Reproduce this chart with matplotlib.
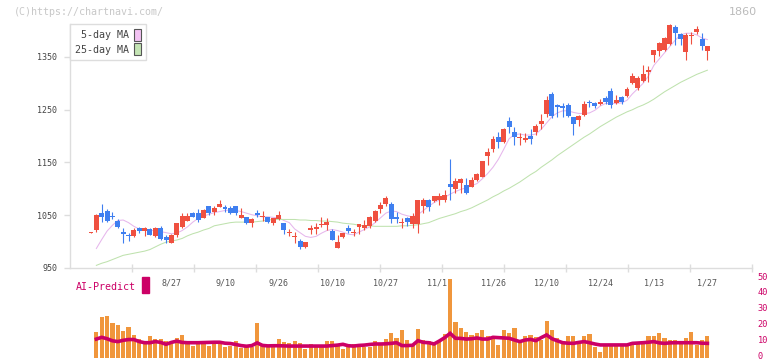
import numpy as np
import matplotlib
matplotlib.use("Agg")
import matplotlib.pyplot as plt
from matplotlib.patches import Patch, Rectangle
from matplotlib.transforms import ScaledTranslation

# daily candles (oldest first)
opens = [1017, 1022, 1055, 1059, 1049, 1039, 1018, 1013, 1011, 1026,
         1020, 1024, 1011, 1025, 1009, 998, 1013, 1028, 1040, 1055,
         1054, 1044, 1068, 1056, 1066, 1065, 1063, 1067, 1045, 1046,
         1036, 1055, 1046, 1046, 1035, 1042, 1035, 1017, 1008, 1002,
         989, 1022, 1024, 1031, 1031, 1021, 987, 1008, 1025, 1016,
         1027, 1025, 1030, 1040, 1061, 1071, 1071, 1046, 1036, 1044,
         1033, 1033, 1068, 1078, 1077, 1079, 1079, 1109, 1099, 1112,
         1107, 1104, 1116, 1123, 1162, 1176, 1198, 1188, 1228, 1207,
         1196, 1192, 1200, 1208, 1223, 1242, 1280, 1259, 1257, 1259,
         1236, 1231, 1240, 1265, 1262, 1261, 1272, 1285, 1262, 1275,
         1276, 1300, 1291, 1305, 1322, 1354, 1362, 1363, 1375, 1407,
         1394, 1360, 1389, 1397, 1384, 1362]
highs = [1019, 1053, 1071, 1061, 1057, 1042, 1025, 1017, 1026, 1028,
         1027, 1025, 1028, 1029, 1013, 1015, 1036, 1055, 1055, 1057,
         1061, 1062, 1068, 1067, 1079, 1069, 1067, 1068, 1063, 1047,
         1044, 1060, 1058, 1047, 1045, 1058, 1036, 1023, 1019, 1005,
         1000, 1031, 1035, 1046, 1044, 1023, 1013, 1017, 1031, 1023,
         1034, 1041, 1049, 1060, 1076, 1087, 1076, 1057, 1044, 1047,
         1054, 1079, 1082, 1080, 1087, 1093, 1098, 1156, 1120, 1121,
         1121, 1123, 1131, 1153, 1177, 1200, 1208, 1215, 1237, 1218,
         1205, 1205, 1213, 1223, 1242, 1276, 1284, 1260, 1262, 1262,
         1237, 1240, 1267, 1268, 1265, 1270, 1276, 1291, 1278, 1277,
         1294, 1320, 1314, 1335, 1333, 1364, 1378, 1388, 1413, 1411,
         1395, 1395, 1398, 1409, 1395, 1371]
lows = [1017, 1019, 1038, 1038, 1042, 1025, 998, 1001, 1008, 1017,
        1011, 1012, 1009, 1004, 998, 997, 1009, 1025, 1039, 1046,
        1038, 1044, 1051, 1050, 1065, 1056, 1053, 1050, 1044, 1033,
        1027, 1047, 1040, 1035, 1031, 1041, 1015, 1011, 998, 986,
        988, 1014, 1014, 1027, 1022, 1003, 987, 1007, 1017, 1011,
        1014, 1022, 1026, 1038, 1054, 1067, 1036, 1036, 1025, 1030,
        1025, 1016, 1055, 1059, 1076, 1069, 1076, 1078, 1092, 1092,
        1090, 1103, 1115, 1122, 1145, 1169, 1177, 1187, 1206, 1183,
        1183, 1188, 1186, 1203, 1213, 1237, 1234, 1237, 1237, 1236,
        1202, 1219, 1238, 1256, 1254, 1259, 1261, 1253, 1261, 1261,
        1274, 1299, 1287, 1303, 1303, 1341, 1351, 1362, 1373, 1373,
        1373, 1344, 1375, 1393, 1363, 1344]
closes = [1018, 1050, 1047, 1040, 1047, 1028, 1015, 1011, 1022, 1021,
          1026, 1013, 1026, 1005, 1003, 1013, 1035, 1049, 1049, 1047,
          1041, 1060, 1054, 1064, 1071, 1061, 1055, 1055, 1050, 1035,
          1042, 1051, 1049, 1038, 1044, 1050, 1022, 1019, 1011, 989,
          999, 1025, 1028, 1033, 1038, 1004, 1000, 1016, 1021, 1019,
          1033, 1031, 1047, 1059, 1069, 1082, 1042, 1043, 1038, 1038,
          1049, 1078, 1079, 1066, 1086, 1087, 1088, 1104, 1114, 1119,
          1093, 1117, 1128, 1152, 1169, 1194, 1188, 1213, 1218, 1199,
          1199, 1196, 1195, 1219, 1229, 1268, 1238, 1256, 1254, 1238,
          1223, 1238, 1261, 1262, 1257, 1265, 1265, 1259, 1268, 1264,
          1289, 1314, 1310, 1318, 1325, 1363, 1376, 1386, 1411, 1395,
          1384, 1392, 1391, 1404, 1370, 1371]

nan = np.nan
ma5 = [nan, 987, 1004, 1020, 1031, 1040, 1041, 1036, 1029, 1024,
       1022, 1021, 1021, 1019, 1017, 1015, 1016, 1021, 1028, 1037,
       1044, 1048, 1052, 1055, 1057, 1059, 1060, 1059, 1057, 1054,
       1051, 1049, 1047, 1047, 1046, 1045, 1040, 1036, 1024, 1017,
       1010, 1008, 1010, 1016, 1021, 1023, 1021, 1018, 1014, 1013,
       1018, 1023, 1028, 1036, 1045, 1054, 1058, 1057, 1052, 1049,
       1047, 1051, 1059, 1067, 1074, 1079, 1084, 1090, 1095, 1099,
       1102, 1106, 1110, 1119, 1129, 1141, 1156, 1175, 1195, 1203,
       1204, 1202, 1202, 1204, 1213, 1225, 1237, 1244, 1248, 1248,
       1245, 1243, 1243, 1244, 1249, 1257, 1262, 1262, 1262, 1263,
       1268, 1280, 1290, 1300, 1314, 1334, 1346, 1358, 1370, 1382,
       1392, 1395, 1395, 1392, 1386, 1383]
ma25 = [nan, 955, 959, 962, 966, 970, 974, 976, 978, 980,
        982, 985, 990, 995, 999, 1001, 1003, 1006, 1011, 1015,
        1018, 1022, 1025, 1030, 1032, 1034, 1036, 1037, 1037, 1037,
        1037, 1038, 1039, 1041, 1042, 1042, 1042, 1042, 1042, 1041,
        1041, 1040, 1040, 1039, 1039, 1038, 1037, 1035, 1034, 1033,
        1031, 1030, 1030, 1029, 1029, 1029, 1029, 1029, 1030, 1030,
        1031, 1032, 1034, 1036, 1040, 1044, 1047, 1050, 1053, 1057,
        1060, 1064, 1069, 1074, 1079, 1085, 1090, 1096, 1101, 1107,
        1113, 1120, 1127, 1133, 1141, 1148, 1155, 1163, 1170, 1177,
        1184, 1191, 1198, 1204, 1211, 1218, 1224, 1230, 1236, 1241,
        1246, 1250, 1255, 1259, 1264, 1270, 1277, 1284, 1290, 1296,
        1302, 1307, 1312, 1317, 1321, 1325]

volume = [0, 16.2, 25.5, 26.1, 21.7, 20.4, 16.7, 19.2, 14.2, 11.4,
          10.4, 13.5, 11.6, 11.6, 10.4, 8.5, 12.5, 14.2, 10.4, 7.2,
          8.5, 10.4, 7.2, 8.5, 8.5, 6.6, 7.2, 10.4, 6.0, 6.6,
          6.8, 21.9, 8.5, 6.8, 6.8, 11.6, 10.0, 9.3, 10.6, 9.3,
          5.3, 8.5, 6.8, 7.2, 10.4, 10.4, 8.5, 5.3, 6.8, 8.5,
          7.2, 6.8, 6.8, 10.4, 8.5, 11.6, 15.2, 12.1, 17.3, 11.0,
          8.5, 17.7, 11.0, 10.2, 8.5, 10.2, 14.8, 49.4, 22.5, 18.7,
          16.2, 14.2, 15.6, 17.3, 13.7, 13.7, 7.9, 17.3, 15.6, 18.6,
          11.0, 13.7, 14.2, 13.1, 11.0, 23.2, 17.3, 12.3, 10.4, 13.7,
          13.7, 10.4, 13.7, 15.0, 6.8, 3.7, 8.5, 8.5, 8.5, 8.5,
          8.5, 10.0, 10.0, 10.4, 13.5, 13.5, 15.6, 12.3, 11.0, 11.0,
          10.4, 12.3, 16.2, 7.9, 11.0, 13.5]
ai_predict = [nan, 11.6, 12.7, 11.8, 10.5, 10.0, 10.8, 11.3, 11.3, 10.0,
              9.3, 9.3, 10.0, 9.5, 8.3, 9.5, 10.3, 9.5, 9.3, 9.3,
              9.3, 9.4, 9.5, 9.6, 9.6, 9.0, 8.8, 8.2, 7.5, 7.1,
              7.5, 9.2, 7.6, 7.3, 7.4, 7.4, 7.3, 7.2, 7.2, 7.2,
              7.2, 7.2, 7.2, 7.2, 7.2, 7.5, 7.8, 8.3, 7.4, 7.2,
              7.6, 7.8, 8.2, 8.5, 8.5, 8.6, 8.9, 9.3, 7.5, 7.5,
              7.7, 10.6, 9.5, 9.3, 8.5, 10.4, 12.5, 15.2, 12.1, 12.0,
              11.6, 11.8, 12.3, 11.6, 11.6, 12.7, 12.5, 12.3, 12.1, 11.0,
              10.0, 11.0, 11.4, 10.6, 12.5, 14.2, 11.8, 10.5, 9.3, 9.0,
              8.9, 9.5, 10.0, 9.3, 8.5, 7.9, 7.9, 7.9, 7.9, 7.9,
              7.9, 8.9, 9.1, 9.3, 9.6, 10.0, 9.2, 8.9, 9.2, 9.3,
              9.3, 9.3, 9.3, 9.3, 9.0, 8.9]

# date labels every 10 sessions, counted back from the last candle
date_labels = ["8/27", "9/10", "9/26", "10/10", "10/27", "11/11",
               "11/26", "12/10", "12/24", "1/13", "1/27"]
price_ticks = [950, 1050, 1150, 1250, 1350]
volume_ticks = [0, 10, 20, 30, 40, 50]

RED = "#ef5040"
BLUE = "#3f7ff0"
ORANGE = "#f0963c"
CRIMSON = "#cc0066"
GRID = "#dddddd"
MONO = "DejaVu Sans Mono"

W, H = 772, 361


def box(x0, y0, x1, y1):
    return [x0 / W, 1 - y1 / H, (x1 - x0) / W, (y1 - y0) / H]


fig = plt.figure(figsize=(W / 100, H / 100), dpi=100)
fig.patch.set_facecolor("white")

ax = fig.add_axes(box(70, 24, 752, 268))
axv = fig.add_axes(box(70, 278, 752, 357.5))

n = len(closes)
idx = np.arange(n)
o = np.array(opens, float)
c = np.array(closes, float)
up = c >= o
cols = np.where(up, RED, BLUE)

# x scale: one session = 5.36 px, first candle at px 91
x_lo = (70 - 91) / 5.36
x_hi = (752 - 91) / 5.36

# moving averages
ax.plot(idx, ma5, color="#e6b6ec", lw=0.75, zorder=1)
ax.plot(idx, ma25, color="#bfe2ae", lw=0.75, zorder=1)

# candles
ax.vlines(idx, lows, highs, colors=cols, lw=0.8, zorder=2, clip_on=False)
body_lo = np.minimum(o, c)
body_h = np.maximum(np.abs(c - o), 1.9)
ax.bar(idx, body_h, bottom=body_lo, width=0.92, color=cols, lw=0,
       zorder=3, clip_on=False)

ax.set_xlim(x_lo, x_hi)
ax.set_ylim(950, 950 + 244 / 0.5275)
ax.set_yticks(price_ticks)
ax.set_yticklabels([str(t) for t in price_ticks], family=MONO)
ax.tick_params(axis="y", direction="out", length=4, width=1, color=GRID,
               labelcolor="#444444", labelsize=6, pad=5)
ax.set_xticks([x_lo + i * (x_hi - x_lo) / 11 for i in range(1, 12)])
ax.set_xticklabels([])
ax.tick_params(axis="x", direction="inout", length=6, width=1, color=GRID)
for s in ["top", "right"]:
    ax.spines[s].set_visible(False)
for s in ["left", "bottom"]:
    ax.spines[s].set_color(GRID)
    ax.spines[s].set_linewidth(1)

handles = [Patch(facecolor="#f2c2f2", edgecolor="#555555", lw=0.8),
           Patch(facecolor="#c4e4b4", edgecolor="#555555", lw=0.8)]
leg = ax.legend(handles, ["5-day MA", "25-day MA"], loc="upper left",
                bbox_to_anchor=(0, 1), borderaxespad=0, markerfirst=False,
                handlelength=0.7, handleheight=1.45, handletextpad=0.5,
                labelspacing=0.25, borderpad=0.5, fancybox=False,
                edgecolor=GRID, framealpha=1,
                prop={"family": MONO, "size": 7.2})
for t in leg.get_texts():
    t.set_color("#444444")
leg.get_frame().set_linewidth(1)

# volume panel
axv.bar(idx, volume, width=0.78, color=ORANGE, lw=0, zorder=2)
axv.plot(idx, ai_predict, color=CRIMSON, lw=2.6, zorder=3,
         solid_joinstyle="miter")
for j, lab in enumerate(date_labels):
    k = n - 1 - 10 * (len(date_labels) - 1 - j)
    axv.text(k, 46.9, lab, ha="center", va="center", fontsize=6,
             family=MONO, color="#555555", zorder=1)
axv.set_xlim(x_lo, x_hi)
axv.set_ylim(0, 50)
axv.set_xticks([])
axv.yaxis.tick_right()
axv.set_yticks(volume_ticks)
axv.set_yticklabels([str(t) for t in volume_ticks], family=MONO)
axv.tick_params(axis="y", length=0, pad=4, labelcolor=CRIMSON, labelsize=6.2)
lift = ScaledTranslation(0, 2 / 100, fig.dpi_scale_trans)
for lab in axv.get_yticklabels():
    lab.set_transform(lab.get_transform() + lift)
for s in axv.spines.values():
    s.set_visible(False)

fig.text(76 / W, 1 - 287 / H, "AI-Predict", color=CRIMSON, fontsize=7.2,
         family=MONO, ha="left", va="center")
fig.patches.append(Rectangle((142 / W, 1 - 293 / H), 7 / W, 16 / H,
                             transform=fig.transFigure, color=CRIMSON))

fig.text(14 / W, 1 - 12 / H, "(C)https://chartnavi.com/", color="#c8c8c8",
         fontsize=7.2, family=MONO, ha="left", va="center")
fig.text(757 / W, 1 - 12 / H, "1860", color="#bbbbbb", fontsize=8,
         ha="right", va="center")

fig.savefig("out.png", dpi=100, facecolor="white")
